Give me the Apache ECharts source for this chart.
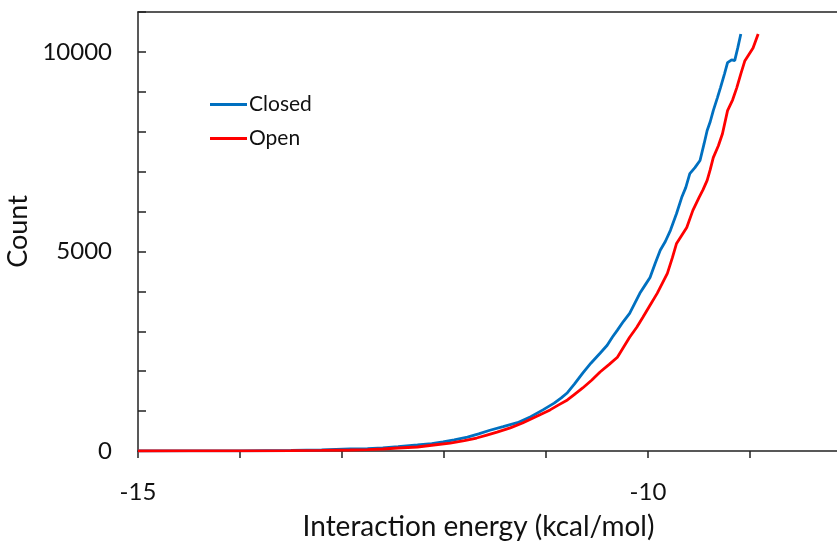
<!DOCTYPE html>
<html>
<head>
<meta charset="utf-8">
<script src="https://cdn.jsdelivr.net/npm/echarts@6/dist/echarts.min.js"></script>
<style>
html,body{margin:0;padding:0;background:#fff;}
#chart{width:837px;height:546px;}
</style>
</head>
<body>
<div id="chart"></div>
<script>
// Series names
const seriesNames = ['Closed', 'Open'];
// x tick labels shown
const xTickLabels = [-15, -10];
// y tick labels shown
const yTickLabels = [0, 5000, 10000];

// Closed: [interaction energy, count]
const closedData = [
[-15,0],[-14.5,2],[-14,5],[-13.5,12],[-13.2,25],[-12.92,50],[-12.75,60],[-12.6,80],[-12.45,110],
[-12.26,150],[-12.12,185],[-12.01,230],[-11.9,280],[-11.77,350],[-11.66,430],[-11.55,520],
[-11.42,610],[-11.28,710],[-11.15,860],[-11.03,1030],[-10.92,1200],[-10.85,1330],[-10.79,1460],
[-10.72,1680],[-10.64,1950],[-10.56,2200],[-10.47,2450],[-10.40,2650],[-10.35,2850],[-10.30,3030],
[-10.24,3250],[-10.18,3450],[-10.13,3700],[-10.08,3950],[-10.03,4150],[-9.98,4350],[-9.93,4700],
[-9.88,5030],[-9.83,5250],[-9.78,5530],[-9.72,5950],[-9.67,6350],[-9.63,6600],[-9.59,6950],
[-9.54,7100],[-9.49,7280],[-9.45,7700],[-9.42,8030],[-9.39,8250],[-9.36,8530],[-9.32,8850],
[-9.29,9100],[-9.25,9450],[-9.22,9730],[-9.18,9800],[-9.15,9780],[-9.12,10100],[-9.09,10450]
];

// Open: [interaction energy, count]
const openData = [
[-15,0],[-14.5,1],[-14,3],[-13.5,8],[-13.2,15],[-12.92,25],[-12.75,35],[-12.6,50],[-12.45,75],
[-12.26,100],[-12.1,150],[-11.94,200],[-11.8,260],[-11.68,325],[-11.58,400],[-11.48,475],
[-11.35,580],[-11.23,700],[-11.1,860],[-10.96,1030],[-10.88,1150],[-10.79,1280],[-10.72,1420],
[-10.64,1580],[-10.55,1780],[-10.47,1980],[-10.38,2170],[-10.30,2350],[-10.24,2600],[-10.18,2850],
[-10.11,3100],[-10.05,3350],[-9.98,3650],[-9.91,3950],[-9.86,4200],[-9.81,4450],[-9.76,4850],
[-9.72,5200],[-9.67,5400],[-9.62,5600],[-9.56,6030],[-9.5,6350],[-9.46,6550],[-9.42,6780],
[-9.39,7050],[-9.36,7350],[-9.31,7650],[-9.27,7950],[-9.22,8530],[-9.17,8800],[-9.13,9100],
[-9.09,9450],[-9.05,9780],[-9.02,9900],[-8.97,10100],[-8.92,10450]
];

const X_MIN = -15, X_MAX = -8.147;
const FONT = 'Lato, "Open Sans", sans-serif';
const chart = echarts.init(document.getElementById('chart'), null, {renderer:'canvas'});
chart.setOption({
  animation: false,
  backgroundColor: '#fff',
  grid: {left: 138, top: 12, right: 0, bottom: 95, show: false, containLabel: false, outerBoundsMode: 'none'},
  legend: {
    orient: 'vertical', left: 205, top: 89,
    icon: 'rect', itemWidth: 37, itemHeight: 3, itemGap: 13,
    textStyle: {fontFamily: FONT, fontSize: 21, color: '#111', padding: [0,0,0,-3]},
    data: seriesNames
  },
  xAxis: [{
    type: 'value', min: X_MIN, max: X_MAX, interval: 1,
    name: 'Interaction energy (kcal/mol)', nameLocation: 'middle', nameGap: 62,
    nameTextStyle: {fontFamily: FONT, fontSize: 28, color: '#111', padding: [0, 18, 0, 0]},
    axisLine: {show: true, onZero: false, lineStyle: {color: '#222', width: 1.5}},
    axisTick: {show: true, inside: false, length: 7, lineStyle: {color: '#222', width: 1.5}},
    axisLabel: {margin: 29, fontFamily: FONT, fontSize: 24, color: '#111', showMaxLabel: false,
      formatter: v => xTickLabels.indexOf(v) >= 0 ? String(v) : ''},
    splitLine: {show: false}
  }, {
    type: 'value', position: 'top', min: X_MIN, max: X_MAX,
    axisLine: {show: true, onZero: false, lineStyle: {color: '#222', width: 1.5}},
    axisTick: {show: false}, axisLabel: {show: false}, splitLine: {show: false}
  }],
  yAxis: {
    type: 'value', min: 0, max: 11000, interval: 1000,
    name: 'Count', nameLocation: 'middle', nameGap: 96, nameRotate: 90,
    nameTextStyle: {fontFamily: FONT, fontSize: 27, color: '#111'},
    axisLine: {show: true, lineStyle: {color: '#222', width: 1.5}},
    axisTick: {show: true, inside: true, length: 8, lineStyle: {color: '#222', width: 1.5}},
    axisLabel: {margin: 26, fontFamily: FONT, fontSize: 24, color: '#111',
      formatter: v => yTickLabels.indexOf(v) >= 0 ? String(v) : ''},
    splitLine: {show: false}
  },
  series: [
    {name: seriesNames[0], type: 'line', data: closedData, showSymbol: false, symbol: 'none',
     lineStyle: {color: '#0070C0', width: 2.8}, itemStyle: {color: '#0070C0'}, z: 2},
    {name: seriesNames[1], type: 'line', data: openData, showSymbol: false, symbol: 'none',
     lineStyle: {color: '#FF0000', width: 2.8}, itemStyle: {color: '#FF0000'}, z: 3}
  ]
});
</script>
</body>
</html>
